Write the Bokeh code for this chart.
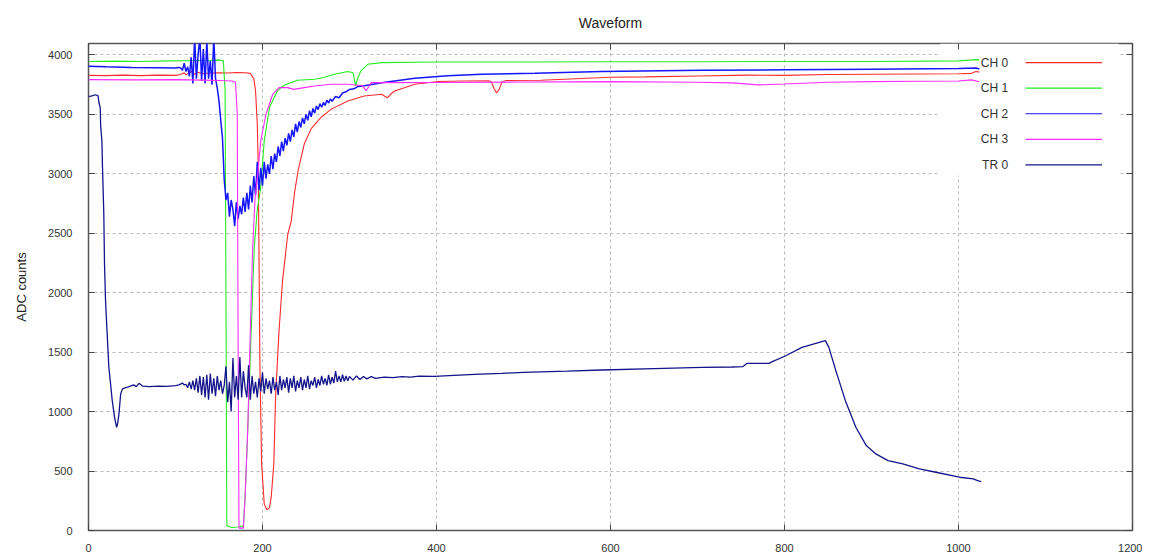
from bokeh.plotting import figure
from bokeh.models import Range1d, LinearAxis, FixedTicker, ColumnDataSource
from bokeh.core.properties import value
from bokeh.embed import file_html
from bokeh.resources import INLINE

# ---------------- data ----------------
series_names = ["CH 0", "CH 1", "CH 2", "CH 3", "TR 0"]
series_colors = ["#ff2a2a", "#22ee22", "#1515ff", "#ff2aff", "#14148c"]

ch0_x = [0, 20, 40, 60, 80, 100, 106, 110, 112, 118, 122, 126, 130, 140, 150, 160, 170, 180, 186,
         190, 192, 194, 195, 196, 197, 199, 202, 205, 208, 210, 213, 215, 219, 223, 229, 233, 237,
         241, 248, 256, 267, 279, 298, 317, 337, 341, 344, 348, 352, 375, 402, 430, 460, 463, 466,
         469, 472, 475, 480, 520, 560, 600, 640, 700, 760, 800, 850, 900, 950, 1000, 1015, 1020, 1024]
ch0_y = [3828, 3826, 3830, 3826, 3830, 3828, 3835, 3850, 3832, 3860, 3838, 3855, 3842, 3848, 3850,
         3848, 3852, 3850, 3845, 3800, 3700, 3420, 3100, 2300, 1400, 560, 224, 174, 190, 280, 560,
         1120, 1680, 2100, 2490, 2600, 2850, 3030, 3250, 3380, 3473, 3544, 3613, 3655, 3669, 3650,
         3640, 3675, 3697, 3753, 3776, 3780, 3782, 3775, 3720, 3680, 3710, 3770, 3785, 3787, 3800,
         3812, 3815, 3823, 3830, 3828, 3835, 3838, 3840, 3842, 3845, 3860, 3855]

ch1_x = [0, 30, 60, 90, 120, 140, 150, 155, 157, 158, 159, 165, 172, 178, 180, 183, 187, 190.5,
         194, 198, 202, 208, 217, 225, 240, 260, 270, 283, 298, 304, 306, 307, 309, 313, 321, 337,
         400, 500, 600, 700, 800, 900, 1000, 1020, 1024]
ch1_y = [3945, 3948, 3945, 3950, 3952, 3955, 3958, 3950, 3700, 2000, 40, 25, 30, 40, 280, 840,
         1680, 2380, 2700, 2885, 3277, 3557, 3697, 3745, 3787, 3795, 3810, 3838, 3860, 3850, 3780,
         3740, 3795, 3865, 3921, 3935, 3940, 3940, 3942, 3943, 3945, 3945, 3950, 3960, 3958]

ch2_x = [0, 20, 50, 80, 100, 104, 106, 108, 110, 112, 114, 116, 118, 120, 122, 124, 126, 128, 130,
         132, 134, 136, 138, 140, 142, 144, 146, 148, 150, 152, 154, 156, 158, 160, 162, 164, 166,
         168, 170, 172, 174, 176, 178, 180, 182, 184, 186, 188, 190, 192, 194, 196, 198, 200, 202,
         204, 206, 208, 210, 212, 214, 216, 218, 220, 222, 224, 226, 228, 230, 232, 234, 236, 238,
         240, 242, 244, 246, 248, 250, 252, 254, 256, 258, 260, 262, 264, 266, 268, 270, 272, 274,
         276, 278, 280, 284, 288, 292, 296, 300, 305, 310, 317, 337, 375, 413, 452, 513, 590, 705,
         800, 900, 1000, 1020, 1024]
ch2_y = [3905, 3900, 3895, 3892, 3890, 3895, 3890, 3870, 3930, 3860, 3900, 3820, 3980, 3760, 4150,
         3800, 4000, 4150, 3780, 4050, 3760, 4120, 3800, 3950, 3750, 4150, 3800, 3720, 3613, 3450,
         3300, 2950, 2780, 2840, 2640, 2780, 2700, 2560, 2760, 2620, 2730, 2660, 2800, 2680, 2840,
         2700, 2900, 2760, 2980, 2820, 3100, 2860, 3050, 2900, 3100, 2960, 3080, 3000, 3150, 3040,
         3170, 3100, 3230, 3150, 3270, 3190, 3300, 3240, 3340, 3270, 3370, 3310, 3420, 3350, 3440,
         3390, 3470, 3420, 3500, 3450, 3530, 3480, 3550, 3510, 3570, 3540, 3590, 3560, 3600, 3575,
         3620, 3595, 3630, 3610, 3650, 3640, 3680, 3690, 3710, 3715, 3735, 3740, 3765, 3804, 3824,
         3838, 3846, 3860, 3871, 3875, 3880, 3885, 3890, 3882]

ch3_x = [0, 50, 100, 130, 150, 165, 169, 171, 172, 173, 178, 180, 183, 186, 188.7, 191.5, 194.5,
         198, 204, 211.7, 219, 229, 236, 248, 260, 279, 298, 315, 319, 322, 325, 337, 400, 500,
         600, 700, 740, 770, 800, 850, 900, 950, 1000, 1015, 1024]
ch3_y = [3792, 3790, 3792, 3788, 3785, 3780, 3770, 3500, 1500, 20, 20, 280, 840, 1680, 2380, 2800,
         2997, 3277, 3501, 3669, 3725, 3725, 3710, 3725, 3739, 3753, 3753, 3740, 3700, 3730, 3767,
         3767, 3768, 3772, 3775, 3770, 3765, 3748, 3755, 3770, 3775, 3778, 3780, 3790, 3775]

tr0_x = [0, 4, 8, 11, 12, 13.5, 14, 15.4, 16, 17.6, 18.4, 19.6, 20.7, 23.4, 27.3, 30, 32.3, 33.5,
         35, 37, 39, 42, 45, 48, 52, 55, 58, 62, 70, 80, 90, 100, 104, 108, 110,
         112, 114, 116, 118, 120, 122, 124, 126, 128, 130, 132, 134, 136, 138, 140, 142, 144, 146,
         148, 150, 152, 154, 156, 158, 160, 162, 164, 166, 168, 170, 172, 174, 176, 178, 180, 182,
         184, 186, 188, 190, 192, 194, 196, 198, 200, 202, 204, 206, 208, 210, 212, 214, 216, 218,
         220, 222, 224, 226, 228, 230, 232, 234, 236, 238, 240, 242, 244, 246, 248, 250, 252, 254,
         256, 258, 260, 262, 264, 266, 268, 270, 272, 274, 276, 278, 280, 282, 284, 286, 288, 290,
         292, 294, 296, 298, 300, 304, 308, 312, 316, 320, 325, 330, 340, 350, 360, 370, 380, 398,
         420, 450, 475, 500, 550, 590, 650, 705, 740, 752, 757, 782, 786, 801.5, 820, 847, 851, 859,
         870, 882, 894, 905, 919, 936, 955, 974, 1001, 1017, 1022, 1026]
tr0_y = [3650, 3655, 3665, 3655, 3600, 3557, 3400, 3277, 3080, 2661, 2241, 1933, 1765, 1372, 1092,
         950, 868, 900, 981, 1149, 1191, 1200, 1205, 1215, 1225, 1210, 1238, 1215, 1210, 1215, 1212,
         1218, 1225, 1240, 1225,
         1230, 1200, 1250, 1190, 1260, 1180, 1280, 1160, 1300, 1140, 1290, 1120, 1310, 1100, 1320,
         1150, 1280, 1130, 1300, 1180, 1260, 1150, 1220, 1380, 1080, 1250, 1000, 1450, 1120, 1300,
         1100, 1460, 1120, 1340, 1200, 1120, 1390, 1100, 1300, 1150, 1250, 1120, 1280, 1170, 1330,
         1150, 1280, 1190, 1260, 1150, 1290, 1180, 1250, 1140, 1300, 1180, 1270, 1200, 1290, 1160,
         1280, 1200, 1300, 1170, 1260, 1200, 1290, 1180, 1270, 1200, 1300, 1190, 1260, 1220, 1290,
         1200, 1270, 1220, 1300, 1230, 1280, 1220, 1310, 1230, 1290, 1240, 1340, 1250, 1300, 1250,
         1310, 1255, 1300, 1260, 1295, 1265, 1300, 1270, 1295, 1275, 1295, 1280, 1290, 1285, 1295,
         1290, 1298, 1297, 1305, 1315, 1322, 1330, 1340, 1350, 1362, 1372, 1375, 1378, 1406, 1406,
         1420, 1470, 1540, 1597, 1540, 1345, 1092, 868, 714, 644, 588, 560, 518, 490, 448, 434, 420,
         412]

x_ticks = [0, 200, 400, 600, 800, 1000, 1200]
y_ticks = [0, 500, 1000, 1500, 2000, 2500, 3000, 3500, 4000]

# ---------------- figure ----------------
FONT = "Liberation Sans"
p = figure(width=1142, height=554, x_range=Range1d(0, 1200), y_range=Range1d(0, 4096),
           output_backend="svg", toolbar_location=None,
           min_border_left=88, min_border_right=10, min_border_top=10, min_border_bottom=10)
p.background_fill_color = "white"
p.border_fill_color = "white"
p.outline_line_color = "#555555"
p.outline_line_width = 1.5

p.title.text = "Waveform"
p.title.align = "center"
p.title.text_font = FONT
p.title.text_font_style = "normal"
p.title.text_font_size = "14px"
p.title.text_color = "#222222"
p.title.offset = 0
p.title.standoff = 25

for ax in (p.xaxis[0], p.yaxis[0]):
    ax.major_label_text_font = FONT
    ax.major_label_text_font_size = "11px"
    ax.major_label_text_color = "#333333"
    ax.axis_line_color = None
    ax.major_tick_in = 6
    ax.major_tick_out = 0
    ax.major_tick_line_color = "#444444"
    ax.minor_tick_line_color = None
p.xaxis[0].ticker = FixedTicker(ticks=x_ticks)
p.yaxis[0].ticker = FixedTicker(ticks=y_ticks)
p.xaxis[0].major_label_standoff = 13
p.yaxis[0].major_label_standoff = 16
p.yaxis[0].axis_label = "ADC counts"
p.yaxis[0].axis_label_text_font = FONT
p.yaxis[0].axis_label_text_font_style = "normal"
p.yaxis[0].axis_label_text_font_size = "13px"
p.yaxis[0].axis_label_text_color = "#222222"
p.yaxis[0].axis_label_standoff = 16

# mirrored inner ticks on top and right (labels not drawn)
top_ax = LinearAxis(ticker=FixedTicker(ticks=x_ticks), major_label_text_font_size="1px",
                    major_label_text_color=None,
                    axis_line_color=None, major_tick_in=6, major_tick_out=0,
                    major_tick_line_color="#444444", minor_tick_line_color=None,
                    major_label_standoff=0)
right_ax = LinearAxis(ticker=FixedTicker(ticks=y_ticks), major_label_text_font_size="1px",
                      major_label_text_color=None,
                      axis_line_color=None, major_tick_in=6, major_tick_out=0,
                      major_tick_line_color="#444444", minor_tick_line_color=None,
                      major_label_standoff=0)
p.add_layout(top_ax, "above")
p.add_layout(right_ax, "right")

p.xgrid.ticker = FixedTicker(ticks=x_ticks)
p.ygrid.ticker = FixedTicker(ticks=y_ticks)
for g in (p.xgrid, p.ygrid):
    g.grid_line_color = "#bbbbbb"
    g.grid_line_dash = "3 3"
    g.grid_line_width = 1

# opaque key background (under traces, over grid)
p.quad(left=[979], right=[1184], top=[4096], bottom=[2983], fill_color="white", line_color=None)

all_x = [ch0_x, ch1_x, ch2_x, ch3_x, tr0_x]
all_y = [ch0_y, ch1_y, ch2_y, ch3_y, tr0_y]
widths = [1.1, 1.1, 1.5, 1.1, 1.3]
for xs, ys, c, w in zip(all_x, all_y, series_colors, widths):
    p.line(xs, ys, line_color=c, line_width=w)

# key: label then sample line (gnuplot style)
key_rows = [3935, 3720, 3505, 3290, 3075]
key_src = ColumnDataSource(dict(name=series_names, color=series_colors, y=key_rows,
                                tx=[1057] * 5, x0=[1077] * 5, x1=[1165] * 5))
p.text(x="tx", y="y", text="name", source=key_src, text_align="right", text_baseline="middle",
       text_font=value(FONT), text_font_size="12px", text_color="#333333")
p.segment(x0="x0", y0="y", x1="x1", y1="y", source=key_src, line_color="color", line_width=1.2)

open("out.html", "w").write(file_html(p, INLINE))
